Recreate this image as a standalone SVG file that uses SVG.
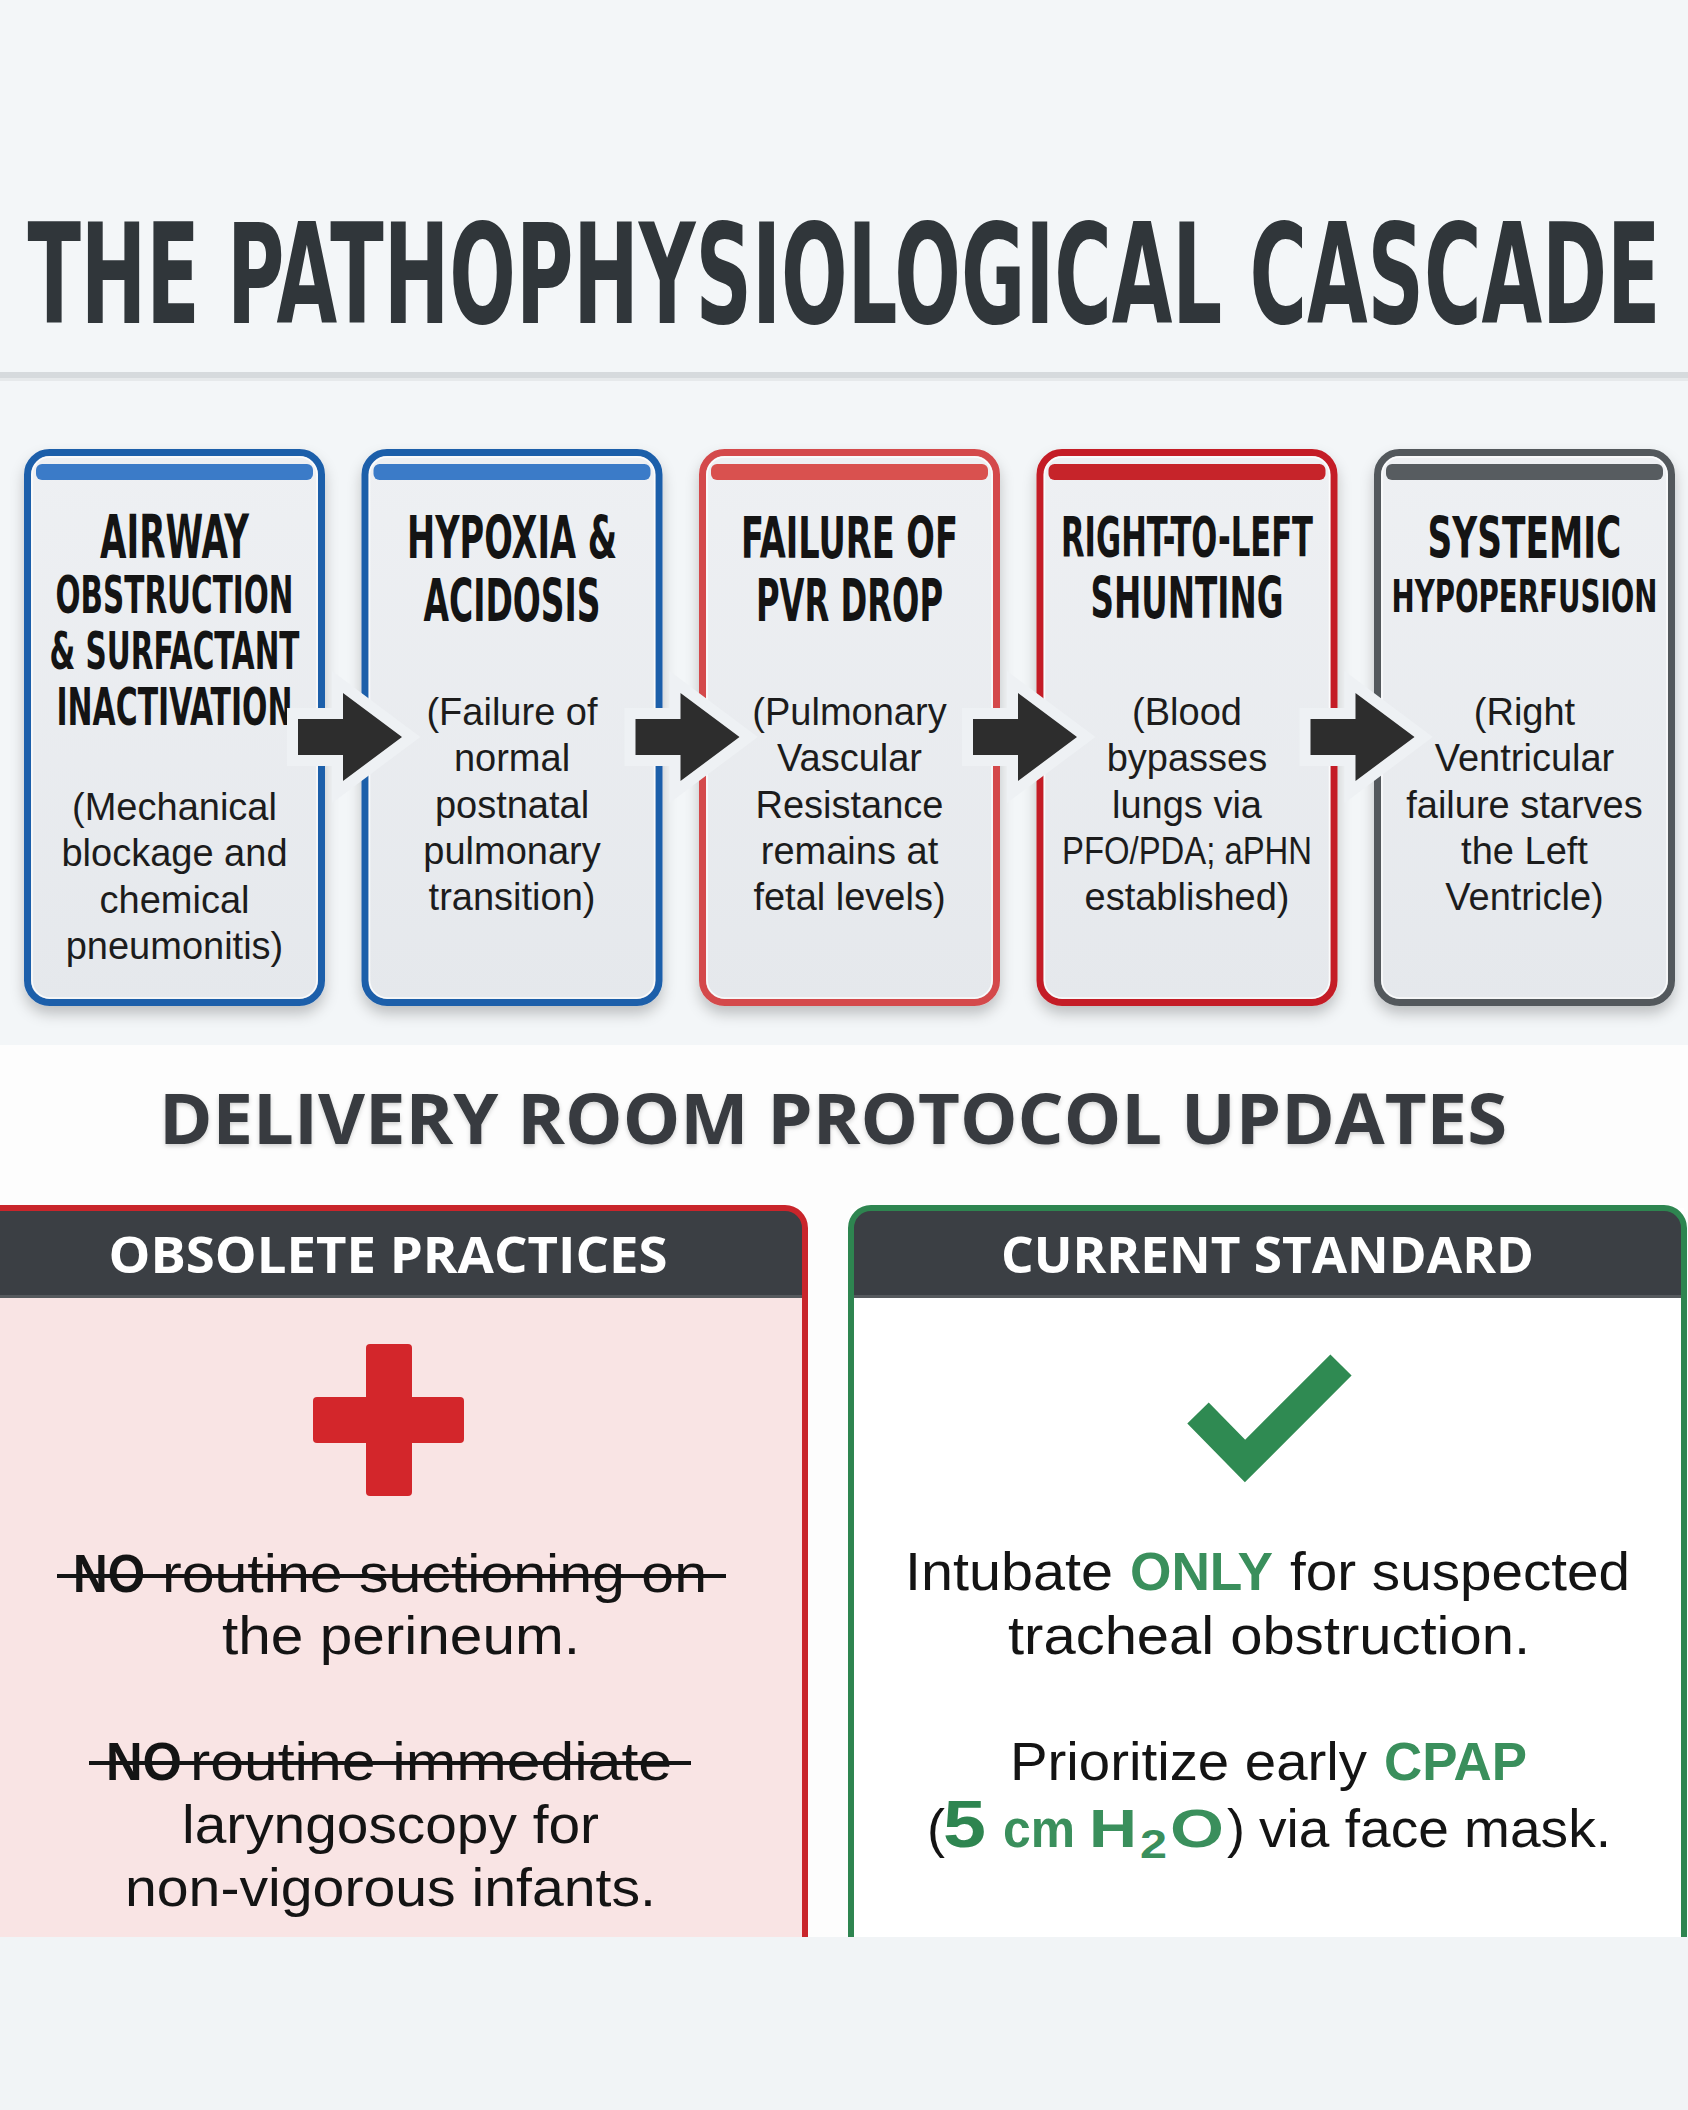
<svg xmlns="http://www.w3.org/2000/svg" width="1688" height="2110" viewBox="0 0 1688 2110">
<defs>
<linearGradient id="boxfill" x1="0" y1="0" x2="0" y2="1">
<stop offset="0" stop-color="#eef0f3"/><stop offset="1" stop-color="#e5e8ec"/>
</linearGradient>
<filter id="shadow" x="-10%" y="-10%" width="120%" height="120%">
<feDropShadow dx="0" dy="8" stdDeviation="7" flood-color="#000" flood-opacity="0.22"/>
</filter>
<filter id="tshadow" x="-5%" y="-20%" width="110%" height="140%">
<feDropShadow dx="0" dy="2" stdDeviation="2" flood-color="#000" flood-opacity="0.18"/>
</filter>
</defs>
<style>
.cond{font-family:"DejaVu Sans Condensed","DejaVu Sans",sans-serif;font-weight:bold;fill:#141414;text-anchor:middle}
.desc{font-family:"Liberation Sans",Arial,sans-serif;font-size:38px;fill:#1c1c1c;text-anchor:middle}
.body{font-family:"Liberation Sans",Arial,sans-serif;font-size:54px;fill:#141414}
.bold{font-weight:bold}
.green{fill:#3a8f5c;font-weight:bold}
.hdr{font-family:"Open Sans","Liberation Sans",sans-serif;font-weight:bold;fill:#ffffff;font-size:50px;text-anchor:middle}
.boxr{stroke-width:7}
.hl{fill:none;stroke:#ffffff;stroke-width:1.5;opacity:0.8}
.arrow{fill:#2d2d2d;stroke:#eef1f4;stroke-width:22;paint-order:stroke;stroke-linejoin:miter}
</style>

<!-- backgrounds -->
<rect x="0" y="0" width="1688" height="1045" fill="#f3f6f8"/>
<rect x="0" y="1045" width="1688" height="892" fill="#fdfdfd"/>
<rect x="0" y="1937" width="1688" height="173" fill="#f1f4f6"/>
<rect x="0" y="372" width="1688" height="6" fill="#d6dadd"/>
<rect x="0" y="378" width="1688" height="3" fill="#e6e9eb"/>

<g id="title">
<text transform="scale(0.6,1)" x="1406.67" y="323" class="cond" font-size="139" style="fill:#30363a" textLength="2722" lengthAdjust="spacingAndGlyphs">THE PATHOPHYSIOLOGICAL CASCADE</text>
</g>

<!-- Box 1 -->
<g id="box1">
<rect x="27.5" y="452.5" width="294" height="550" rx="22" fill="url(#boxfill)" stroke="#1f5faa" class="boxr" filter="url(#shadow)"/>
<rect x="32" y="457" width="285" height="541" rx="18" class="hl"/>
<rect x="36" y="464" width="277" height="16" rx="6" fill="#3b7bc8"/>
<text x="174.5" y="558" class="cond" font-size="60" textLength="149" lengthAdjust="spacingAndGlyphs">AIRWAY</text>
<text x="174.5" y="613" class="cond" font-size="52" textLength="238" lengthAdjust="spacingAndGlyphs">OBSTRUCTION</text>
<text x="174.5" y="669" class="cond" font-size="52" textLength="250" lengthAdjust="spacingAndGlyphs">&amp; SURFACTANT</text>
<text x="174.5" y="725" class="cond" font-size="52" textLength="236" lengthAdjust="spacingAndGlyphs">INACTIVATION</text>
<text x="174.5" y="820" class="desc">(Mechanical</text>
<text x="174.5" y="866" class="desc">blockage and</text>
<text x="174.5" y="913" class="desc">chemical</text>
<text x="174.5" y="959" class="desc">pneumonitis)</text>
</g>

<!-- Box 2 -->
<g id="box2">
<rect x="365" y="452.5" width="294" height="550" rx="22" fill="url(#boxfill)" stroke="#1f5faa" class="boxr" filter="url(#shadow)"/>
<rect x="369.5" y="457" width="285" height="541" rx="18" class="hl"/>
<rect x="373.5" y="464" width="277" height="16" rx="6" fill="#3b7bc8"/>
<text x="512" y="558" class="cond" font-size="58" textLength="210" lengthAdjust="spacingAndGlyphs">HYPOXIA &amp;</text>
<text x="512" y="621" class="cond" font-size="58" textLength="177" lengthAdjust="spacingAndGlyphs">ACIDOSIS</text>
<text x="512" y="725" class="desc">(Failure of</text>
<text x="512" y="771" class="desc">normal</text>
<text x="512" y="818" class="desc">postnatal</text>
<text x="512" y="864" class="desc">pulmonary</text>
<text x="512" y="910" class="desc">transition)</text>
</g>

<!-- Box 3 -->
<g id="box3">
<rect x="702.5" y="452.5" width="294" height="550" rx="22" fill="url(#boxfill)" stroke="#d44a4c" class="boxr" filter="url(#shadow)"/>
<rect x="707" y="457" width="285" height="541" rx="18" class="hl"/>
<rect x="711" y="464" width="277" height="16" rx="6" fill="#d9514f"/>
<text x="849.5" y="558" class="cond" font-size="57" textLength="217" lengthAdjust="spacingAndGlyphs">FAILURE OF</text>
<text x="849.5" y="621" class="cond" font-size="58" textLength="187" lengthAdjust="spacingAndGlyphs">PVR DROP</text>
<text x="849.5" y="725" class="desc">(Pulmonary</text>
<text x="849.5" y="771" class="desc">Vascular</text>
<text x="849.5" y="818" class="desc">Resistance</text>
<text x="849.5" y="864" class="desc">remains at</text>
<text x="849.5" y="910" class="desc">fetal levels)</text>
</g>

<!-- Box 4 -->
<g id="box4">
<rect x="1040" y="452.5" width="294" height="550" rx="22" fill="url(#boxfill)" stroke="#c41f25" class="boxr" filter="url(#shadow)"/>
<rect x="1044.5" y="457" width="285" height="541" rx="18" class="hl"/>
<rect x="1048.5" y="464" width="277" height="16" rx="6" fill="#c6242a"/>
<text transform="scale(0.55,1)" x="2158.18" y="556" class="cond" font-size="55" textLength="458.2" lengthAdjust="spacingAndGlyphs">RIGHT-TO-LEFT</text>
<text x="1187" y="618" class="cond" font-size="57" textLength="193" lengthAdjust="spacingAndGlyphs">SHUNTING</text>
<text x="1187" y="725" class="desc">(Blood</text>
<text x="1187" y="771" class="desc">bypasses</text>
<text x="1187" y="818" class="desc">lungs via</text>
<text x="1187" y="864" class="desc" textLength="250" lengthAdjust="spacingAndGlyphs">PFO/PDA; aPHN</text>
<text x="1187" y="910" class="desc">established)</text>
</g>

<!-- Box 5 -->
<g id="box5">
<rect x="1377.5" y="452.5" width="294" height="550" rx="22" fill="url(#boxfill)" stroke="#53585c" class="boxr" filter="url(#shadow)"/>
<rect x="1382" y="457" width="285" height="541" rx="18" class="hl"/>
<rect x="1386" y="464" width="277" height="16" rx="6" fill="#575c60"/>
<text transform="scale(0.6,1)" x="2540.83" y="558" class="cond" font-size="57" textLength="323" lengthAdjust="spacingAndGlyphs">SYSTEMIC</text>
<text transform="scale(0.66,1)" x="2309.85" y="612" class="cond" font-size="44" textLength="403" lengthAdjust="spacingAndGlyphs">HYPOPERFUSION</text>
<text x="1524.5" y="725" class="desc">(Right</text>
<text x="1524.5" y="771" class="desc">Ventricular</text>
<text x="1524.5" y="818" class="desc">failure starves</text>
<text x="1524.5" y="864" class="desc">the Left</text>
<text x="1524.5" y="910" class="desc">Ventricle)</text>
</g>

<!-- connectors -->
<g id="connectors">
<path class="arrow" d="M298,719 H343 V693 L402,737 L343,781 V755 H298 Z"/>
<path class="arrow" d="M635.5,719 H680.5 V693 L739.5,737 L680.5,781 V755 H635.5 Z"/>
<path class="arrow" d="M973,719 H1018 V693 L1077,737 L1018,781 V755 H973 Z"/>
<path class="arrow" d="M1310.5,719 H1355.5 V693 L1414.5,737 L1355.5,781 V755 H1310.5 Z"/>
</g>

<g id="section-title">
<text x="833" y="1144" font-family="'Open Sans','Liberation Sans',sans-serif" font-weight="bold" font-size="70" fill="#373b3f" text-anchor="middle" textLength="1348" lengthAdjust="spacingAndGlyphs" filter="url(#tshadow)">DELIVERY ROOM PROTOCOL UPDATES</text>
</g>

<!-- Obsolete panel -->
<g id="panel-obsolete">
<rect x="-10" y="1297" width="815" height="640" fill="#f9e4e4"/>
<path d="M-10,1208 H785 A20,20 0 0 1 805,1228 V1297 H-10 Z" fill="#3b3f44"/>
<rect x="-10" y="1295" width="815" height="3" fill="#55595d"/>
<path d="M-10,1208 H785 A20,20 0 0 1 805,1228 V1937" fill="none" stroke="#c9252b" stroke-width="6"/>
<text x="388" y="1273" class="hdr" textLength="559" lengthAdjust="spacingAndGlyphs">OBSOLETE PRACTICES</text>
<rect x="366" y="1344" width="46" height="152" rx="4" fill="#d3262b"/>
<rect x="313" y="1397" width="151" height="46" rx="4" fill="#d3262b"/>
<text x="73" y="1592" class="body bold" textLength="72" lengthAdjust="spacingAndGlyphs">NO</text>
<text x="162" y="1592" class="body" textLength="545" lengthAdjust="spacingAndGlyphs">routine suctioning on</text>
<rect x="57" y="1574" width="669" height="4" fill="#141414"/>
<text x="401" y="1654" class="body" text-anchor="middle" textLength="358" lengthAdjust="spacingAndGlyphs">the perineum.</text>
<text x="106" y="1780" class="body bold" textLength="76" lengthAdjust="spacingAndGlyphs">NO</text>
<text x="190" y="1780" class="body" textLength="482" lengthAdjust="spacingAndGlyphs">routine immediate</text>
<rect x="89" y="1761" width="602" height="4" fill="#141414"/>
<text x="390.5" y="1843" class="body" text-anchor="middle" textLength="417" lengthAdjust="spacingAndGlyphs">laryngoscopy for</text>
<text x="390.5" y="1906" class="body" text-anchor="middle" textLength="531" lengthAdjust="spacingAndGlyphs">non-vigorous infants.</text>
</g>

<!-- Current panel -->
<g id="panel-current">
<rect x="851" y="1208" width="833" height="729" fill="#ffffff"/>
<path d="M851,1297 V1228 A20,20 0 0 1 871,1208 H1664 A20,20 0 0 1 1684,1228 V1297 Z" fill="#3b3f44"/>
<rect x="851" y="1295" width="833" height="3" fill="#55595d"/>
<path d="M851,1937 V1228 A20,20 0 0 1 871,1208 H1664 A20,20 0 0 1 1684,1228 V1937" fill="none" stroke="#2e8550" stroke-width="6"/>
<text x="1267.5" y="1273" class="hdr" textLength="533" lengthAdjust="spacingAndGlyphs">CURRENT STANDARD</text>
<polyline points="1198,1413 1245,1461 1341,1365" fill="none" stroke="#2f8a52" stroke-width="30" stroke-linejoin="miter" stroke-linecap="butt"/>
<text x="905" y="1590" class="body" textLength="208" lengthAdjust="spacingAndGlyphs">Intubate</text>
<text x="1130" y="1590" class="body green" textLength="143" lengthAdjust="spacingAndGlyphs">ONLY</text>
<text x="1290" y="1590" class="body" textLength="340" lengthAdjust="spacingAndGlyphs">for suspected</text>
<text x="1269" y="1654" class="body" text-anchor="middle" textLength="522" lengthAdjust="spacingAndGlyphs">tracheal obstruction.</text>
<text x="1010" y="1780" class="body" textLength="357" lengthAdjust="spacingAndGlyphs">Prioritize early</text>
<text x="1384" y="1780" class="body green" textLength="143" lengthAdjust="spacingAndGlyphs">CPAP</text>
<text x="927" y="1847" class="body">(</text>
<text x="943" y="1847" class="body green" style="font-size:66px;fill:#2e8550" textLength="43" lengthAdjust="spacingAndGlyphs">5</text>
<text x="1003" y="1847" class="body green" textLength="72" lengthAdjust="spacingAndGlyphs">cm</text>
<text x="1089" y="1847" class="body green" textLength="48" lengthAdjust="spacingAndGlyphs">H</text>
<text x="1140" y="1858" class="body green" style="font-size:40px" textLength="27" lengthAdjust="spacingAndGlyphs">2</text>
<text x="1170" y="1847" class="body green" textLength="54" lengthAdjust="spacingAndGlyphs">O</text>
<text x="1227" y="1847" class="body">)</text>
<text x="1259" y="1847" class="body" textLength="352" lengthAdjust="spacingAndGlyphs">via face mask.</text>
</g>
</svg>
